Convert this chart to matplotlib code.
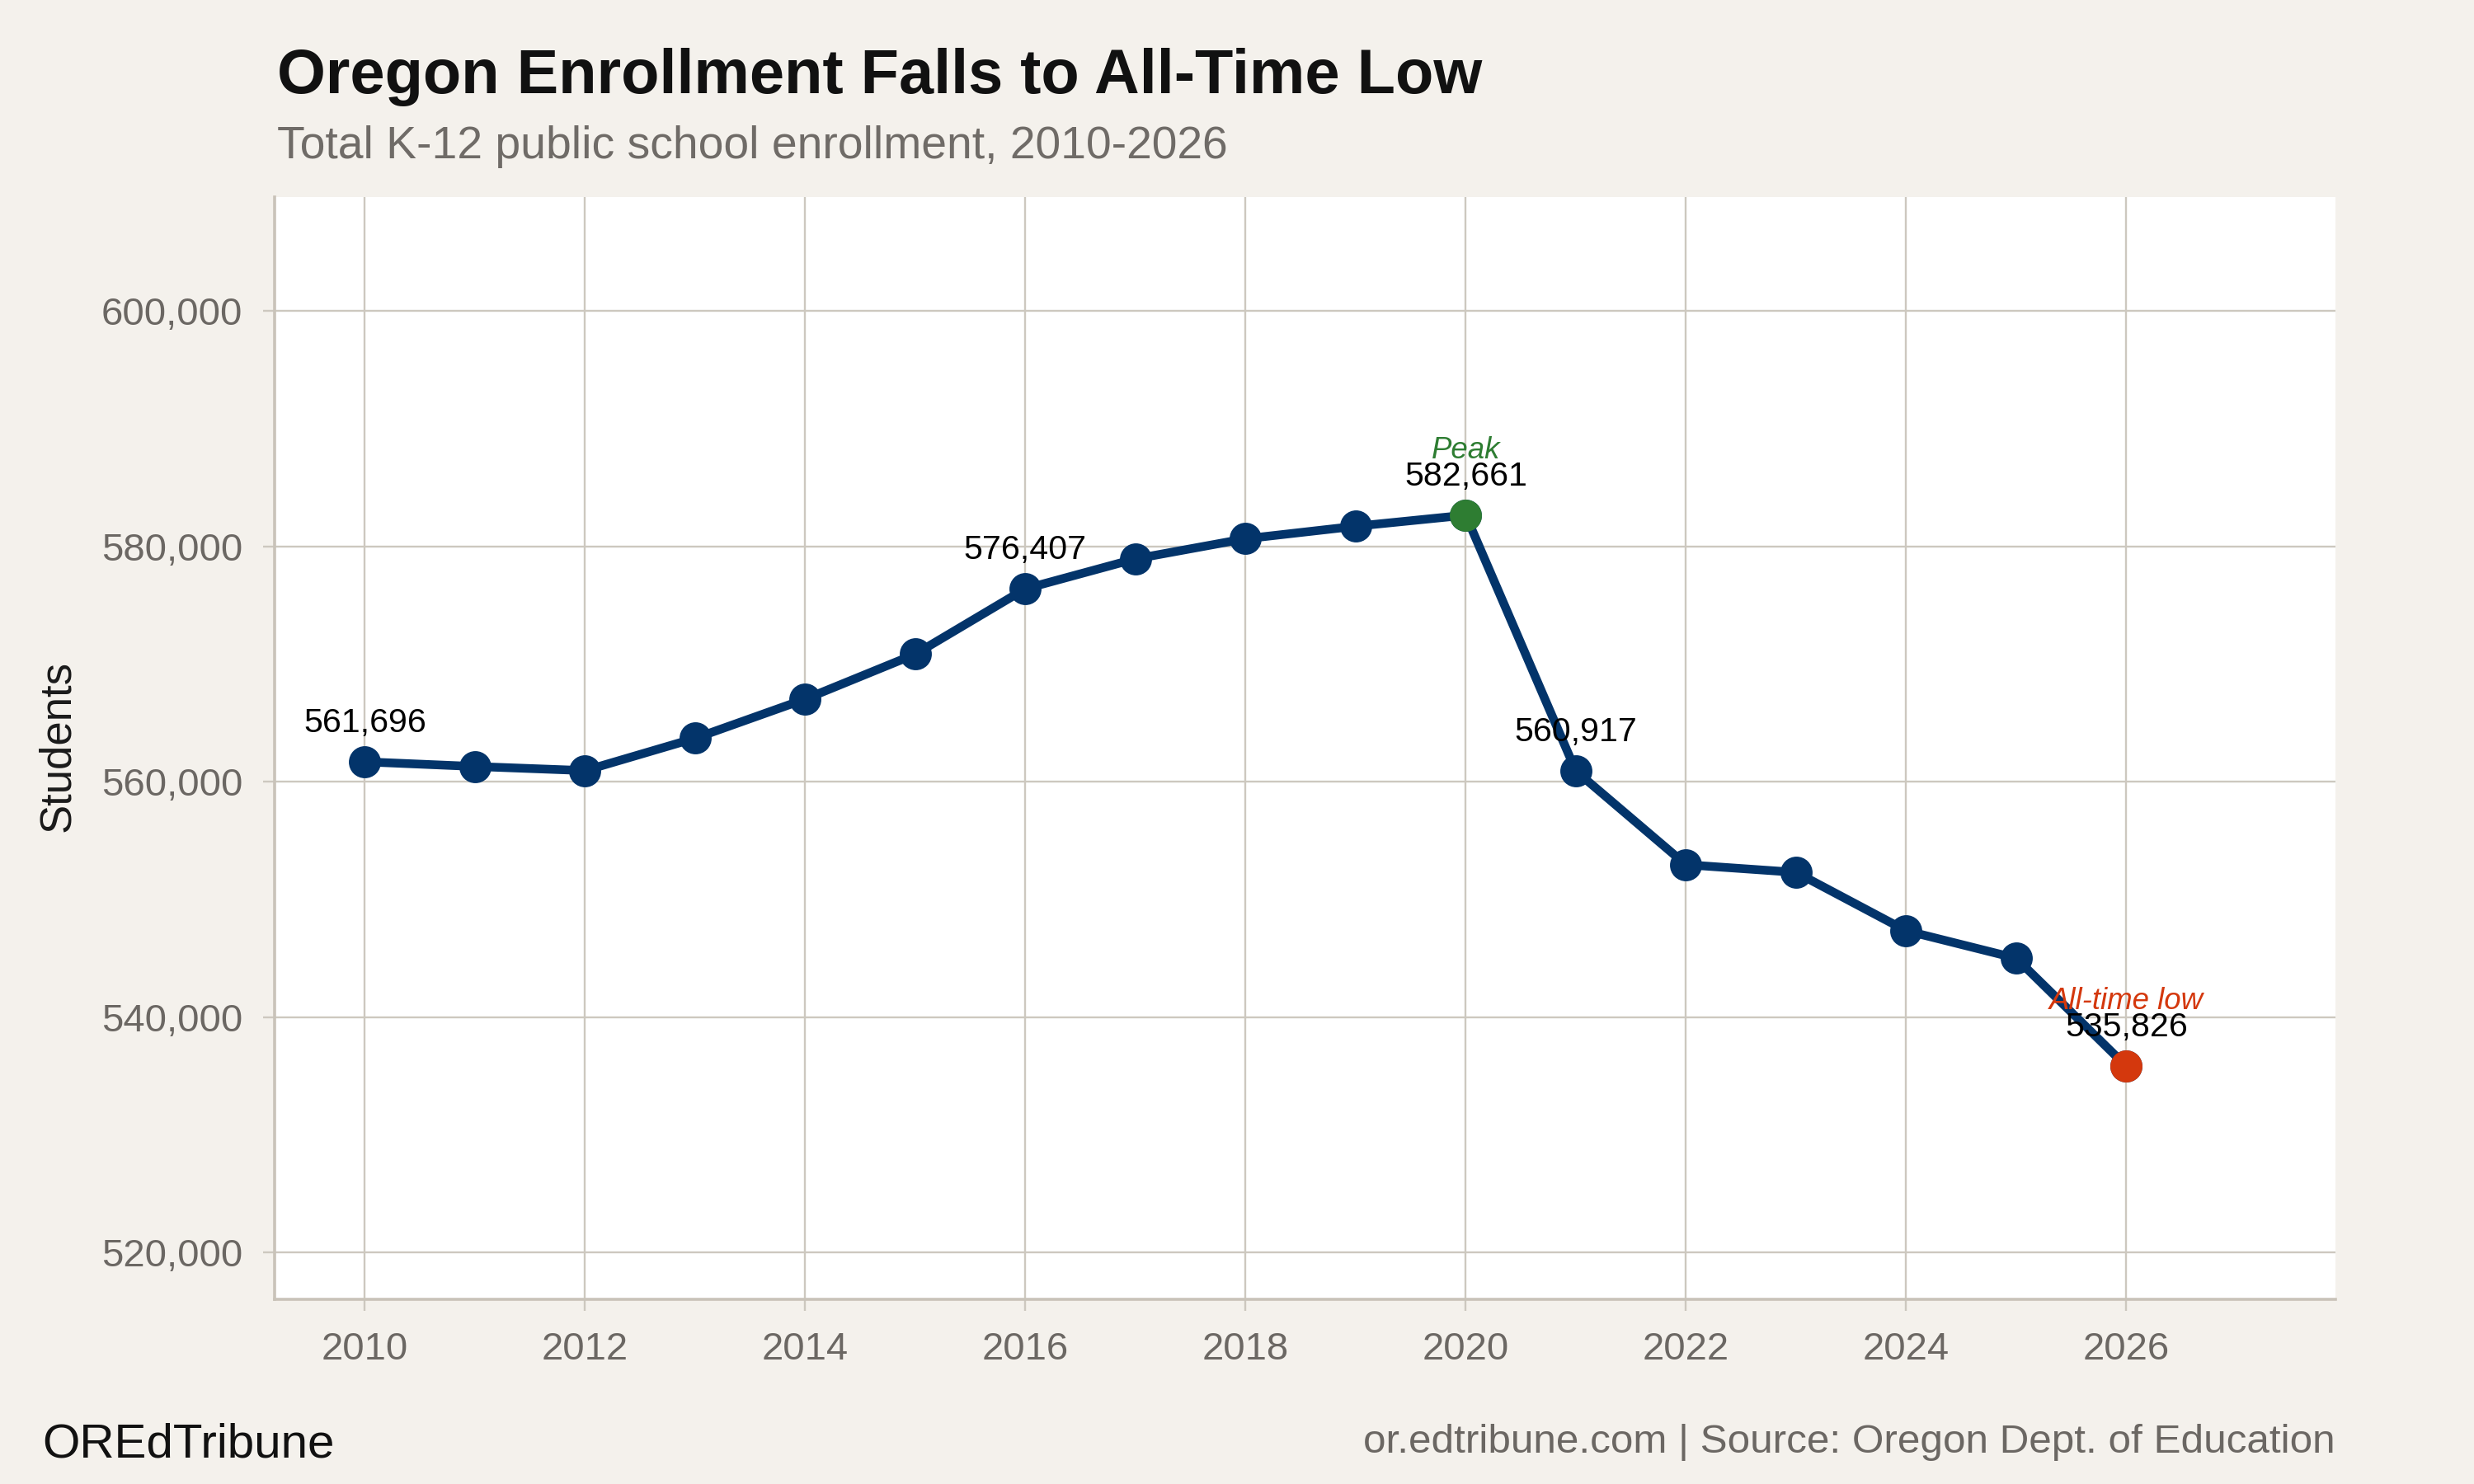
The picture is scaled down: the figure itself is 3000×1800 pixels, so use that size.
import matplotlib
matplotlib.use("Agg")
import matplotlib.pyplot as plt
from matplotlib.ticker import FuncFormatter, MultipleLocator

# ---- data ----
years = [2010, 2011, 2012, 2013, 2014, 2015, 2016, 2017, 2018,
         2019, 2020, 2021, 2022, 2023, 2024, 2025, 2026]
enrollment = [561696, 561300, 560950, 563700, 567030, 570850, 576407, 578950, 580660,
              581720, 582661, 560917, 552950, 552300, 547340, 545000, 535826]
labeled_years = [2010, 2016, 2020, 2021, 2026]
peak_year = 2020
low_year = 2026

title = "Oregon Enrollment Falls to All-Time Low"
subtitle = "Total K-12 public school enrollment, 2010-2026"
ylabel = "Students"
footer_left = "OREdTribune"
footer_right = "or.edtribune.com | Source: Oregon Dept. of Education"

# ---- style ----
plt.rcParams['font.family'] = ['Liberation Sans', 'DejaVu Sans']
BG = '#f4f1ec'
GRID = '#cdc8bf'
SPINE = '#c9c3b9'
LINE = '#03346a'
GREEN = '#2e7d32'
RED = '#d4380d'
TICKC = '#6b6763'

fig = plt.figure(figsize=(15, 9), dpi=200, facecolor=BG)
ax = fig.add_axes([0.111, 0.1244, 0.833, 0.7428])
ax.set_facecolor('white')

ax.plot(years, enrollment, color=LINE, lw=3.8, zorder=3,
        marker='o', markersize=13, markerfacecolor=LINE, markeredgecolor=LINE,
        solid_capstyle='round')

pi = years.index(peak_year)
li = years.index(low_year)
ax.plot([years[pi]], [enrollment[pi]], 'o', color=GREEN, markersize=13, zorder=4)
ax.plot([years[li]], [enrollment[li]], 'o', color=RED, markersize=13, zorder=4)

for y in labeled_years:
    i = years.index(y)
    ax.annotate(f"{enrollment[i]:,}", (years[i], enrollment[i]),
                xytext=(0, 13), textcoords='offset points',
                ha='center', va='baseline', fontsize=14.8, color='black', zorder=5)

ax.annotate("Peak", (years[pi], enrollment[pi]), xytext=(0, 24.8),
            textcoords='offset points', ha='center', va='baseline',
            fontsize=13.2, style='italic', color=GREEN, zorder=5)
ax.annotate("All-time low", (years[li], enrollment[li]), xytext=(0, 24.8),
            textcoords='offset points', ha='center', va='baseline',
            fontsize=13.2, style='italic', color=RED, zorder=5)

ax.set_xlim(2009.18, 2027.9)
ax.set_ylim(516000, 609700)
ax.xaxis.set_major_locator(MultipleLocator(2))
ax.yaxis.set_major_locator(MultipleLocator(20000))
ax.yaxis.set_major_formatter(FuncFormatter(lambda v, p: f"{int(v):,}"))

ax.grid(True, color=GRID, lw=0.85, zorder=0)
ax.set_axisbelow(True)
for s in ['top', 'right']:
    ax.spines[s].set_visible(False)
for s in ['left', 'bottom']:
    ax.spines[s].set_color(SPINE)
    ax.spines[s].set_linewidth(1.3)

ax.tick_params(axis='both', colors=GRID, length=5, width=0.85,
               labelcolor=TICKC, labelsize=17, pad=9)

fig.text(0.0233, 0.497, ylabel, rotation=90, ha='center', va='center',
         fontsize=19, color='#1a1a1a')

fig.text(0.112, 0.9372, title, ha='left', va='baseline', fontsize=27.25,
         fontweight='bold', color='#111111')
fig.text(0.112, 0.8933, subtitle, ha='left', va='baseline', fontsize=19.9,
         color='#6f6b67')
fig.text(0.017, 0.0183, footer_left, ha='left', va='baseline', fontsize=21,
         color='#111111')
fig.text(0.944, 0.0211, footer_right, ha='right', va='baseline', fontsize=17.8,
         color='#6b6763')

fig.savefig('out.png', dpi=200, facecolor=BG)
